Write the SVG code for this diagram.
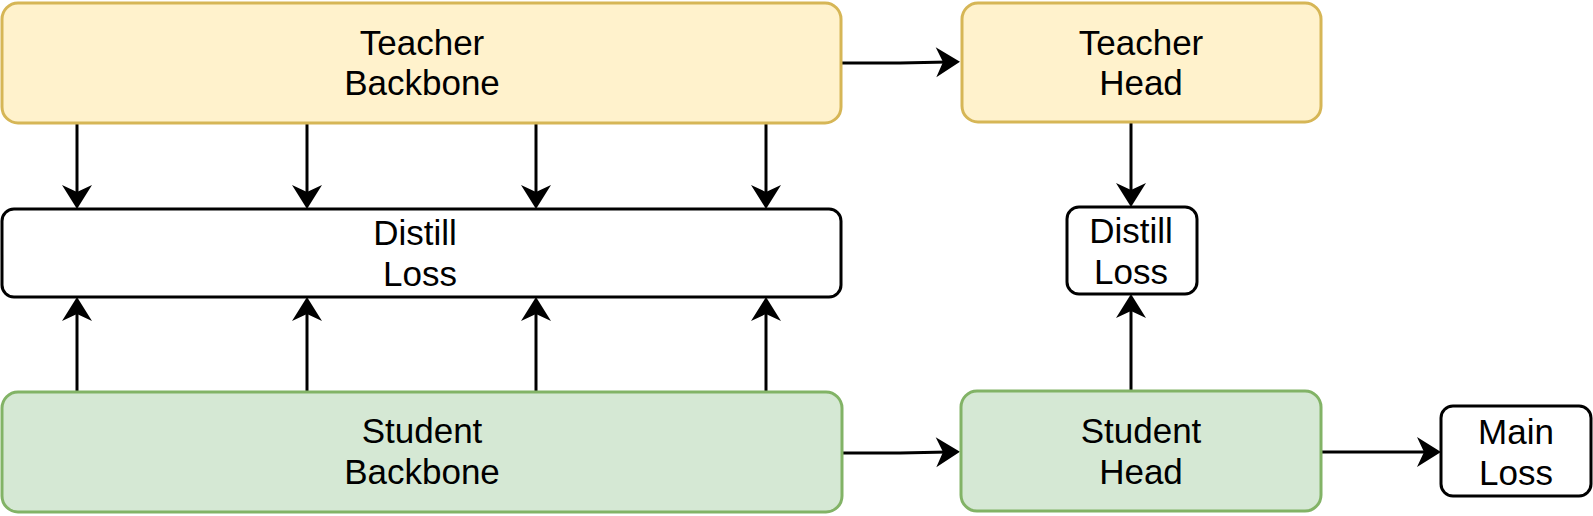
<svg xmlns="http://www.w3.org/2000/svg" width="1593" height="516" viewBox="0 0 1593 516">
  <style>
    .teacher { fill: #fff2cc; stroke: #d6b656; stroke-width: 3; }
    .student { fill: #d5e8d4; stroke: #82b366; stroke-width: 3; }
    .loss { fill: #ffffff; stroke: #000000; stroke-width: 3; }
    .lbl { font-family: "Liberation Sans", Arial, Helvetica, sans-serif; font-size: 35px; fill: #000000; text-anchor: middle; }
    .edge { fill: none; stroke: #000000; stroke-width: 3; marker-end: url(#arr); }
  </style>
  <defs>
    <marker id="arr" markerUnits="userSpaceOnUse" markerWidth="28" markerHeight="34" viewBox="-13 -17 28 34" refX="0" refY="0" orient="auto">
      <path d="M12,0 L-12,-15 L-5,0 L-12,15 Z" fill="#000000"/>
    </marker>
  </defs>
  <rect width="1593" height="516" fill="#ffffff"/>

  <g id="connectors">
    <path class="edge" d="M842,63 L900,63 L948,62"/>
    <path class="edge" d="M77,123 L77,197"/>
    <path class="edge" d="M307,123 L307,197"/>
    <path class="edge" d="M536,123 L536,197"/>
    <path class="edge" d="M766,123 L766,197"/>
    <path class="edge" d="M77,392 L77,309"/>
    <path class="edge" d="M307,392 L307,309"/>
    <path class="edge" d="M536,392 L536,309"/>
    <path class="edge" d="M766,392 L766,309"/>
    <path class="edge" d="M1131,122 L1131,195"/>
    <path class="edge" d="M1131,391 L1131,306"/>
    <path class="edge" d="M842,453 L900,453 L948,452"/>
    <path class="edge" d="M1321,452 L1429,452"/>
  </g>

  <g id="teacher-backbone">
    <rect class="teacher" x="2" y="3" width="839" height="120" rx="16"/>
    <text class="lbl" x="422" y="55">Teacher</text>
    <text class="lbl" x="422" y="95">Backbone</text>
  </g>
  <g id="teacher-head">
    <rect class="teacher" x="962" y="3" width="359" height="119" rx="16"/>
    <text class="lbl" x="1141" y="55">Teacher</text>
    <text class="lbl" x="1141" y="95">Head</text>
  </g>
  <g id="distill-loss-backbone">
    <rect class="loss" x="2" y="209" width="839" height="88" rx="12"/>
    <text class="lbl" x="415" y="245">Distill</text>
    <text class="lbl" x="420" y="286">Loss</text>
  </g>
  <g id="distill-loss-head">
    <rect class="loss" x="1067" y="207" width="130" height="87" rx="12"/>
    <text class="lbl" x="1131" y="243">Distill</text>
    <text class="lbl" x="1131" y="284">Loss</text>
  </g>
  <g id="student-backbone">
    <rect class="student" x="2" y="392" width="840" height="120" rx="16"/>
    <text class="lbl" x="422" y="443">Student</text>
    <text class="lbl" x="422" y="484">Backbone</text>
  </g>
  <g id="student-head">
    <rect class="student" x="961" y="391" width="360" height="120" rx="16"/>
    <text class="lbl" x="1141" y="443">Student</text>
    <text class="lbl" x="1141" y="484">Head</text>
  </g>
  <g id="main-loss">
    <rect class="loss" x="1441" y="406" width="150" height="90" rx="12"/>
    <text class="lbl" x="1516" y="444">Main</text>
    <text class="lbl" x="1516" y="485">Loss</text>
  </g>
</svg>
